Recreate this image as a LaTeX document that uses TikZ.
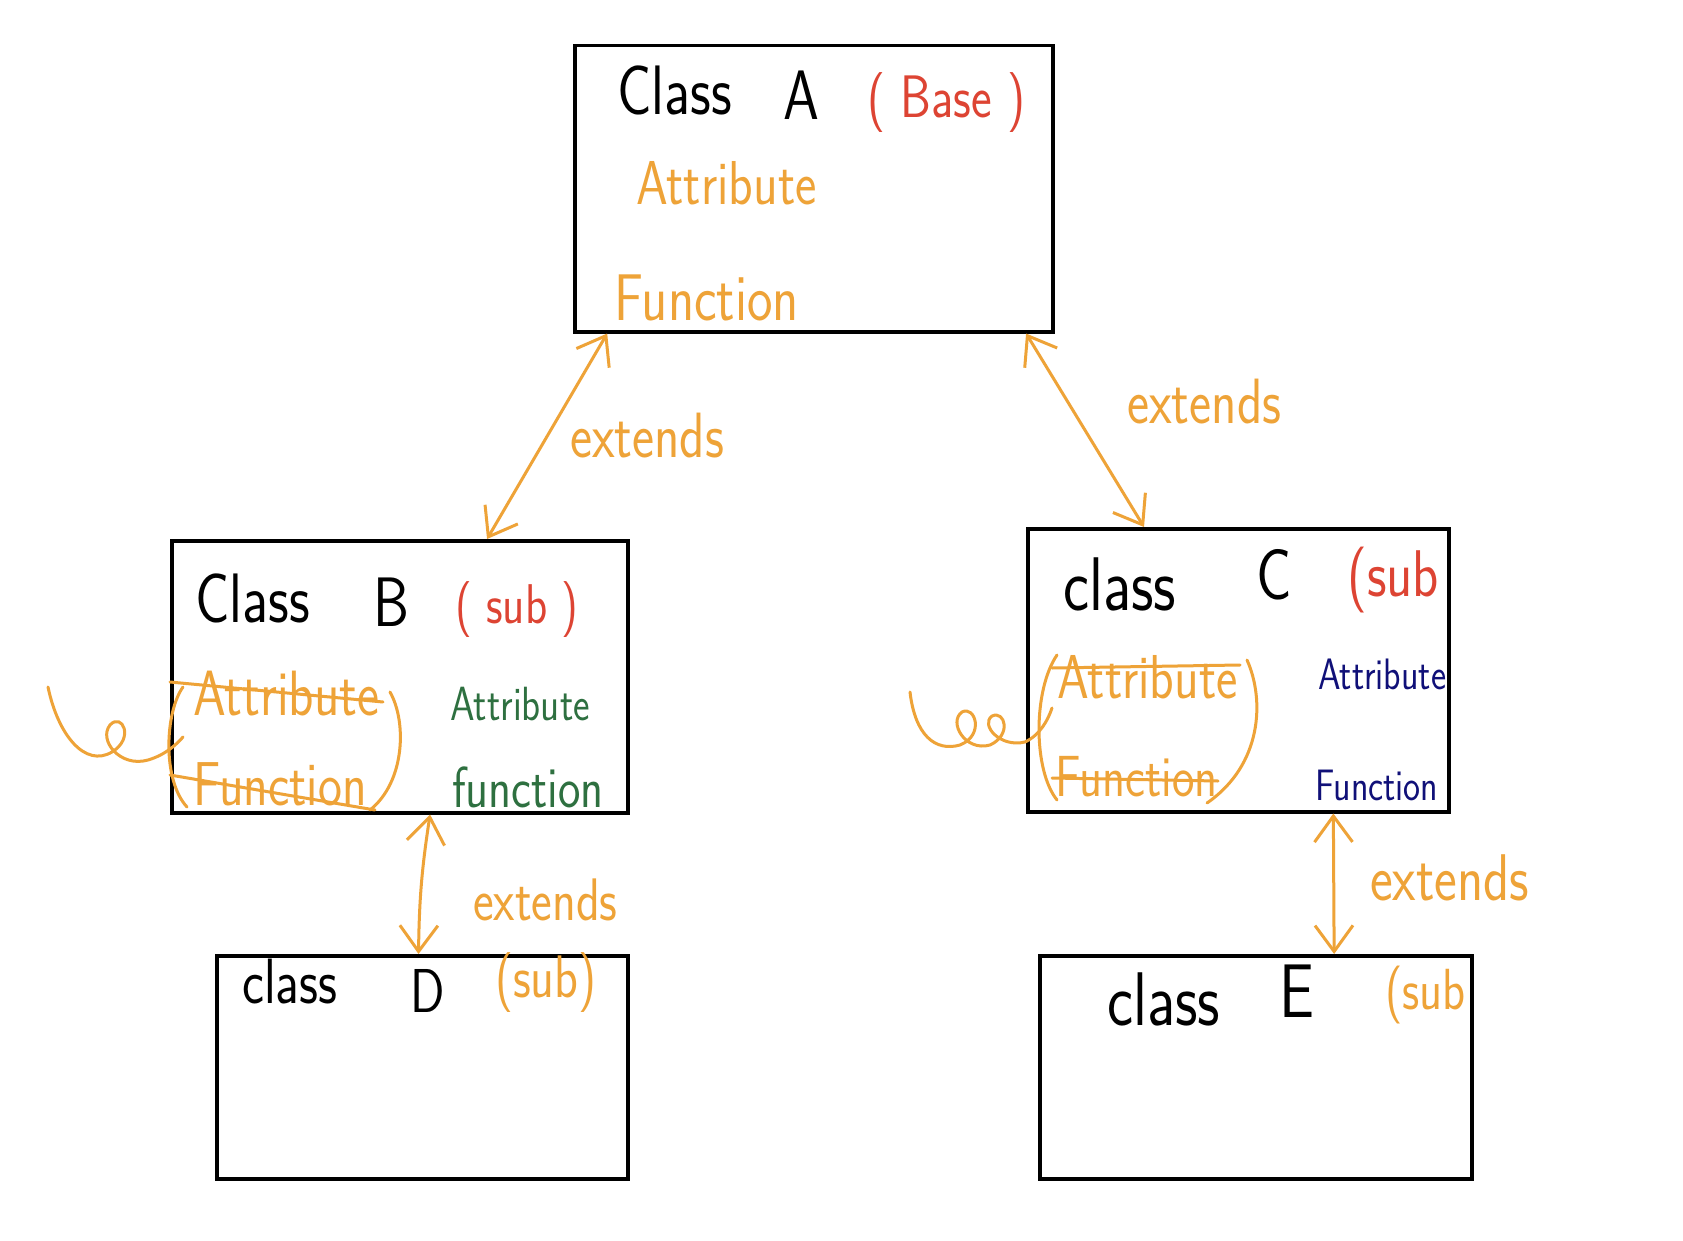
\documentclass[tikz,border=0pt]{standalone}
\usepackage{graphicx}
\usetikzlibrary{arrows.meta,calc}
\definecolor{hOrange}{RGB}{238,163,56}
\definecolor{hRed}{RGB}{221,68,51}
\definecolor{hGreen}{RGB}{46,112,64}
\definecolor{hNavy}{RGB}{16,16,120}
\newcommand\hwt[2]{\fontsize{#1}{#1}\selectfont\scalebox{0.82}[1]{#2}}
\tikzset{
  box/.style={draw=black, line width=3.5pt, inner sep=0pt, anchor=north west},
  txt/.style={inner sep=0pt, anchor=base west, font=\sffamily},
  ink/.style={draw=hOrange, line width=3pt, line cap=round, line join=round},
  arr/.style={ink, {Straight Barb[length=26pt,width=38pt,line width=3pt]}-{Straight Barb[length=26pt,width=38pt,line width=3pt]}}
}
\begin{document}
\begin{tikzpicture}[x=1pt,y=-1pt]
\useasboundingbox[fill=white] (0,0) rectangle (1683,1241);

% boxes
\node[box, minimum width=478pt, minimum height=286pt] (A) at (573,44) {};
\node[box, minimum width=456pt, minimum height=272pt] (B) at (170,539) {};
\node[box, minimum width=421pt, minimum height=283pt] (C) at (1026,527) {};
\node[box, minimum width=411pt, minimum height=223pt] (D) at (215,954) {};
\node[box, minimum width=432pt, minimum height=223pt] (E) at (1038,954) {};

% class A
\node[txt] (aCls) at (617,115) {\hwt{70}{Class}};
\node[txt] (aName) at (783,120) {\hwt{70}{A}};
\node[txt, text=hRed] (aTag) at (867,118) {\hwt{60}{( Base )}};
\node[txt, text=hOrange] (aAttr) at (636,205) {\hwt{62}{Attribute}};
\node[txt, text=hOrange] (aFun) at (614,320) {\hwt{66}{Function}};

% class B
\node[txt] (bCls) at (195,622) {\hwt{70}{Class}};
\node[txt] (bName) at (373,626) {\hwt{70}{B}};
\node[txt, text=hRed] (bTag) at (455,623) {\hwt{56}{( sub )}};
\node[txt, text=hOrange] (bAttrX) at (193,715) {\hwt{64}{Attribute}};
\node[txt, text=hOrange] (bFunX) at (193,805) {\hwt{62}{Function}};
\node[txt, text=hGreen] (bAttr) at (450,720) {\hwt{48}{Attribute}};
\node[txt, text=hGreen] (bFun) at (452,807) {\hwt{58}{function}};

% class C
\node[txt] (cCls) at (1063,610) {\hwt{76}{class}};
\node[txt] (cName) at (1256,599) {\hwt{72}{C}};
\node[txt, text=hRed] (cTag) at (1347,596) {\hwt{66}{(sub}};
\node[txt, text=hOrange] (cAttrX) at (1057,698) {\hwt{62}{Attribute}};
\node[txt, text=hOrange] (cFunX) at (1055,796) {\hwt{58}{Function}};
\node[txt, text=hNavy] (cAttr) at (1318,689) {\hwt{44}{Attribute}};
\node[txt, text=hNavy] (cFun) at (1315,800) {\hwt{44}{Function}};

% class D
\node[txt] (dCls) at (242,1003) {\hwt{64}{class}};
\node[txt] (dName) at (410,1012) {\hwt{62}{D}};
\node[txt, text=hOrange] (dTag) at (495,997) {\hwt{60}{(sub)}};

% class E
\node[txt] (eCls) at (1107,1025) {\hwt{76}{class}};
\node[txt] (eName) at (1279,1017) {\hwt{76}{E}};
\node[txt, text=hOrange] (eTag) at (1385,1009) {\hwt{58}{(sub}};

% strike-throughs
\draw[ink] (170,682) -- (383,702);
\draw[ink] (170,775) -- (375,810);
\draw[ink] (1052,668) -- (1240,665);
\draw[ink] (1052,778) -- (1218,781);

% brackets
\draw[ink] (183,687) .. controls (165,712) and (162,780) .. (187,807);
\draw[ink] (390,692) .. controls (407,722) and (405,782) .. (370,810);
\draw[ink] (1057,655) .. controls (1033,690) and (1033,770) .. (1057,800);
\draw[ink] (1247,660) .. controls (1265,700) and (1262,765) .. (1207,803);

% squiggles
\draw[ink] (48,687) .. controls (58,735) and (85,768) .. (112,752)
  .. controls (135,738) and (122,712) .. (110,725)
  .. controls (98,740) and (120,768) .. (148,760)
  .. controls (165,755) and (176,745) .. (183,737);
\draw[ink] (910,692) .. controls (915,735) and (935,752) .. (960,745)
  .. controls (985,735) and (975,705) .. (962,712)
  .. controls (948,722) and (965,752) .. (990,745)
  .. controls (1012,735) and (1005,710) .. (992,716)
  .. controls (980,725) and (1000,748) .. (1025,742)
  .. controls (1040,735) and (1048,720) .. (1052,708);

% connectors
\coordinate (ab1) at ($(A.south west)!0.071!(A.south east)$);
\coordinate (ab2) at ($(B.north west)!0.69!(B.north east)$);
\coordinate (ac1) at ($(A.south west)!0.941!(A.south east)$);
\coordinate (ac2) at ($(C.north west)!0.278!(C.north east)$);
\coordinate (bd1) at ($(B.south west)!0.566!(B.south east)$);
\coordinate (bd2) at ($(D.north west)!0.491!(D.north east)$);
\coordinate (ce1) at ($(C.south west)!0.724!(C.south east)$);
\coordinate (ce2) at ($(E.north west)!0.68!(E.north east)$);

\draw[arr] (ab1) -- (ab2);
\draw[arr] (ac1) -- (ac2);
\draw[arr] (bd1) to[bend right=4] (bd2);
\draw[arr] (ce1) -- (ce2);

% labels
\node[txt, text=hOrange] (lab) at (570,457) {\hwt{64}{extends}};
\node[txt, text=hOrange] (lac) at (1127,423) {\hwt{64}{extends}};
\node[txt, text=hOrange] (lbd) at (473,920) {\hwt{60}{extends}};
\node[txt, text=hOrange] (lce) at (1370,900) {\hwt{66}{extends}};
\end{tikzpicture}
\end{document}
